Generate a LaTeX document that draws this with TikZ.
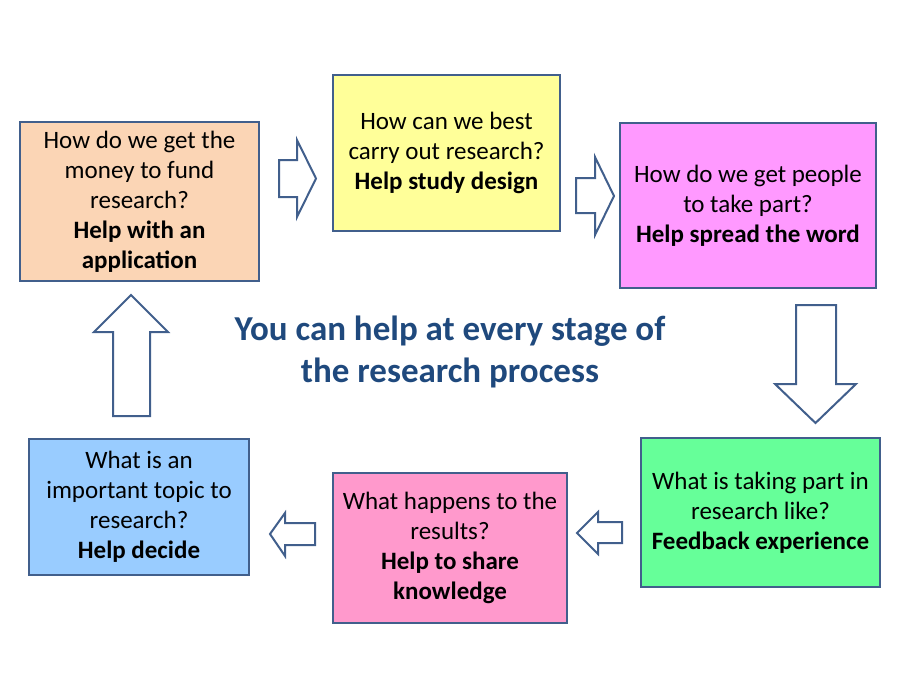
\documentclass[tikz,border=0pt]{standalone}
\usepackage{fontspec}
\setmainfont{Carlito}
\usetikzlibrary{positioning}
\definecolor{edgeblue}{RGB}{65,95,140}
\definecolor{titleblue}{RGB}{31,73,125}
\definecolor{fundfill}{RGB}{251,213,181}
\definecolor{designfill}{RGB}{255,255,153}
\definecolor{spreadfill}{RGB}{255,153,255}
\definecolor{feedfill}{RGB}{102,255,153}
\definecolor{sharefill}{RGB}{255,153,204}
\definecolor{decidefill}{RGB}{153,204,255}
\newcommand{\px}{0.75pt}

\begin{document}
\begin{tikzpicture}[x=0.75pt, y=-0.75pt,
	stagebox/.style = {draw=edgeblue, line width=1.6pt, align=center, inner sep=0pt,
		font=\fontsize{18.75}{22.5}\selectfont},
	flowarrow/.style = {draw=edgeblue, fill=white, line width=1.5pt, line join=miter}]
	\useasboundingbox (0,0) rectangle (900,675);
		\node[stagebox, fill=fundfill, minimum width=239*\px, minimum height=159*\px] (fund) at (139.5,201.5)
			{How do we get the\\money to fund\\research?\\\textbf{Help with an}\\\textbf{application}};
		\node[stagebox, fill=designfill, minimum width=227*\px, minimum height=156*\px] (design) at (446.5,153)
			{How can we best\\carry out research?\\\textbf{Help study design}};
		\node[stagebox, fill=spreadfill, minimum width=256*\px, minimum height=165*\px] (spread) at (748,205.5)
			{How do we get people\\to take part?\\\textbf{Help spread the word}};
		\node[stagebox, fill=feedfill, minimum width=239*\px, minimum height=149*\px] (feedback) at (760.5,512.5)
			{What is taking part in\\research like?\\\textbf{Feedback experience}};
		\node[stagebox, fill=sharefill, minimum width=234*\px, minimum height=150*\px] (share) at (450,548)
			{What happens to the\\results?\\\textbf{Help to share}\\\textbf{knowledge}};
		\node[stagebox, fill=decidefill, minimum width=220*\px, minimum height=136*\px] (decide) at (139,507)
			{What is an\\important topic to\\research?\\\textbf{Help decide}};
		\node[align=center, text=titleblue, font=\fontsize{26.25}{31.5}\selectfont\bfseries] (title) at (450,352)
			{You can help at every stage of\\the research process};
	%	block arrows round the cycle
		\draw[flowarrow] (279,160) -- (297,160) -- (297,140) -- (316,178.5) -- (297,217) -- (297,197) -- (279,197) -- cycle;
		\draw[flowarrow] (576,178) -- (595,178) -- (595,157) -- (614,196) -- (595,235) -- (595,213) -- (576,213) -- cycle;
		\draw[flowarrow] (796,305) -- (836,305) -- (836,384) -- (856,384) -- (815.5,423) -- (775,384) -- (796,384) -- cycle;
		\draw[flowarrow] (622,522) -- (598,522) -- (598,512) -- (577,533) -- (598,554) -- (598,543) -- (622,543) -- cycle;
		\draw[flowarrow] (315,523) -- (285,523) -- (285,513) -- (270,534) -- (285,556) -- (285,545) -- (315,545) -- cycle;
		\draw[flowarrow] (113,416) -- (113,332) -- (94,332) -- (131,295) -- (168,332) -- (150,332) -- (150,416) -- cycle;
	\end{tikzpicture}
\end{document}
